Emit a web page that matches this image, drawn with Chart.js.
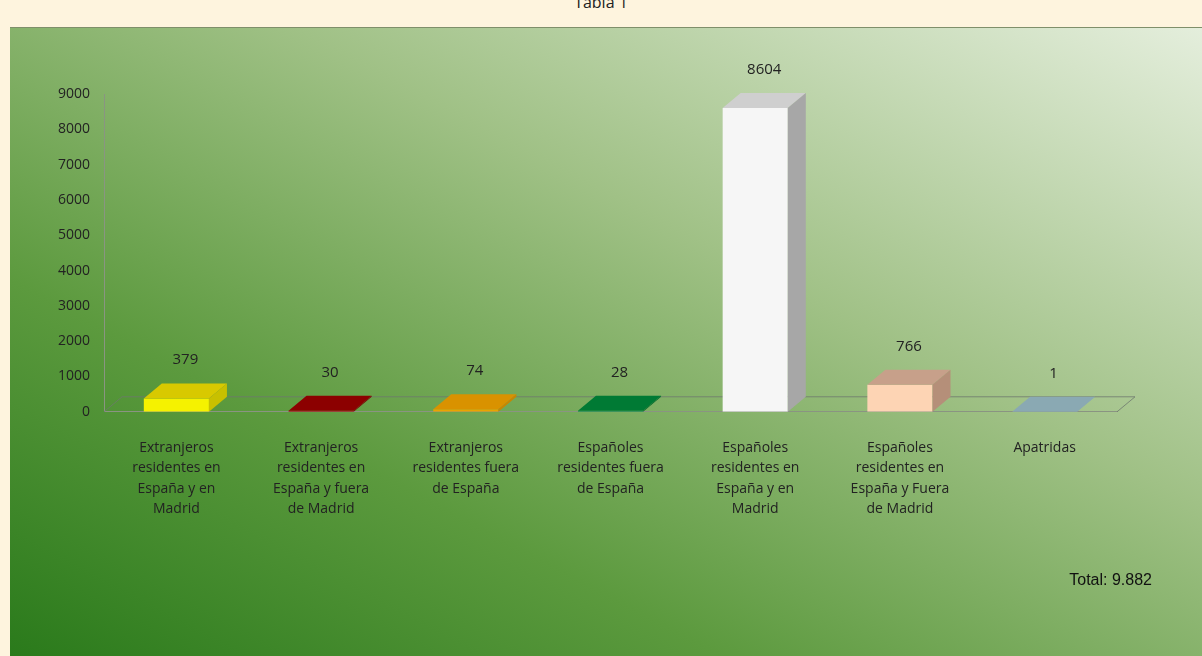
<!DOCTYPE html>
<html>
<head>
<meta charset="utf-8">
<script src="https://cdn.jsdelivr.net/npm/chart.js@4/dist/chart.umd.min.js"></script>
<style>
  html, body { margin: 0; padding: 0; }
  body {
    width: 1202px; height: 656px; overflow: hidden;
    background: #fef4de; position: relative;
    font-family: "Open Sans", "Noto Sans", sans-serif;
  }
  #titulo {
    position: absolute; left: 0; width: 1202px; top: -9px;
    text-align: center; font-size: 16px; color: #222;
  }
  #panel {
    position: absolute; left: 10px; top: 27px; width: 1192px; height: 629px;
    border-top: 1px solid #7f8f6a;
    background: linear-gradient(to top right, #2a7a1b 0%, #5c9a3e 30%, #a0c186 62%, #e4eedc 100%);
  }
  #total {
    position: absolute; right: 50px; bottom: 68px;
    font-family: "Liberation Sans", "DejaVu Sans", sans-serif;
    font-size: 16px; color: #111;
  }
</style>
</head>
<body>
<div id="titulo">Tabla 1</div>
<div id="panel">
  <canvas id="graficaTabla"></canvas>
  <div id="total">Total: 9.882</div>
</div>

<script>
// datos de la tabla
const categorias = [
  ["Extranjeros", "residentes en", "España y en", "Madrid"],
  ["Extranjeros", "residentes en", "España y fuera", "de Madrid"],
  ["Extranjeros", "residentes fuera", "de España"],
  ["Españoles", "residentes fuera", "de España"],
  ["Españoles", "residentes en", "España y en", "Madrid"],
  ["Españoles", "residentes en", "España y Fuera", "de Madrid"],
  ["Apatridas"]
];
const valores = [379, 30, 74, 28, 8604, 766, 1];
const ticksY = [0, 1000, 2000, 3000, 4000, 5000, 6000, 7000, 8000, 9000];

const coloresFrente = ["#f5f200", "#a40000", "#eaa400", "#00923f", "#f6f6f6", "#fdd4b4", "#8eb0ba"];
const coloresArriba = ["#d8c900", "#8c0000", "#d99200", "#007a34", "#cfcfcf", "#c7a08a", "#8aa9b3"];
const coloresLado   = ["#c8c000", "#7a0000", "#c98600", "#006a2c", "#a7a7a7", "#b58f79", "#7d9ca6"];

const DX = 18, DY = -15;

// caras 3D + etiquetas de valor
const efecto3D = {
  id: 'efecto3D',
  beforeDatasetsDraw(chart) {
    const ctx = chart.ctx;
    const x = chart.scales.x, y = chart.scales.y;
    // piso
    ctx.save();
    ctx.strokeStyle = 'rgba(110,120,110,0.8)';
    ctx.lineWidth = 1;
    ctx.beginPath();
    ctx.moveTo(x.left, y.bottom);
    ctx.lineTo(x.left + DX, y.bottom + DY);
    ctx.lineTo(x.right + DX, y.bottom + DY);
    ctx.lineTo(x.right, y.bottom);
    ctx.stroke();
    ctx.restore();
  },
  afterDatasetsDraw(chart) {
    const ctx = chart.ctx;
    const meta = chart.getDatasetMeta(0);
    meta.data.forEach((bar, i) => {
      const w = bar.width;
      const l = bar.x - w / 2, r = bar.x + w / 2;
      const top = bar.y, base = bar.base;
      ctx.save();
      // cara superior
      ctx.fillStyle = coloresArriba[i];
      ctx.beginPath();
      ctx.moveTo(l, top);
      ctx.lineTo(l + DX, top + DY);
      ctx.lineTo(r + DX, top + DY);
      ctx.lineTo(r, top);
      ctx.closePath();
      ctx.fill();
      // cara lateral
      ctx.fillStyle = coloresLado[i];
      ctx.beginPath();
      ctx.moveTo(r, top);
      ctx.lineTo(r + DX, top + DY);
      ctx.lineTo(r + DX, base + DY);
      ctx.lineTo(r, base);
      ctx.closePath();
      ctx.fill();
      // valor
      ctx.fillStyle = '#222';
      ctx.font = '15px "Open Sans", sans-serif';
      ctx.textAlign = 'center';
      ctx.textBaseline = 'bottom';
      ctx.fillText(valores[i], bar.x + DX / 2, top + DY - 16);
      ctx.restore();
    });
  }
};

new Chart(document.getElementById('graficaTabla'), {
  type: 'bar',
  data: {
    labels: categorias,
    datasets: [{
      data: valores,
      backgroundColor: coloresFrente,
      borderWidth: 0,
      barPercentage: 0.45,
      categoryPercentage: 1
    }]
  },
  options: {
    responsive: true,
    maintainAspectRatio: false,
    animation: false,
    layout: { padding: { left: 40, right: 85, top: 66, bottom: 120 } },
    plugins: {
      legend: { display: false },
      tooltip: { enabled: false }
    },
    scales: {
      y: {
        min: 0,
        max: 9000,
        afterBuildTicks(axis) { axis.ticks = ticksY.map(v => ({ value: v })); },
        grid: { display: false, drawTicks: true, tickLength: 6 },
        border: { color: '#8a9482' },
        ticks: {
          color: '#222', padding: 8,
          font: { size: 14, family: '"Open Sans", sans-serif' },
          callback: v => String(v)
        }
      },
      x: {
        grid: { display: false },
        border: { color: '#8a9482' },
        ticks: {
          color: '#222', maxRotation: 0, autoSkip: false, padding: 18,
          font: { size: 14, family: '"Open Sans", sans-serif', lineHeight: 1.45 }
        }
      }
    }
  },
  plugins: [efecto3D]
});
</script>
</body>
</html>
